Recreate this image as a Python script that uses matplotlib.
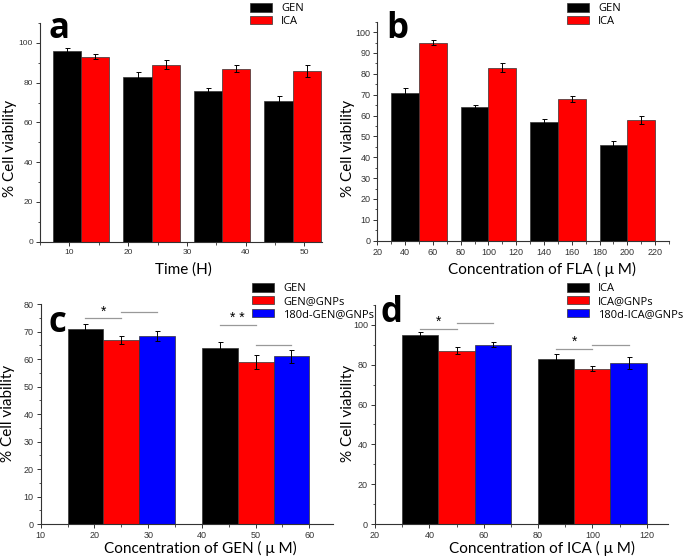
import matplotlib
matplotlib.use('Agg')
import matplotlib.pyplot as plt
from matplotlib.ticker import MultipleLocator

# panel a - time
a_groups = [12, 24, 36, 48]
a_gen = [96, 83, 76, 71]
a_gen_err = [1.2, 2.5, 1.5, 2.5]
a_ica = [93, 89, 87, 86]
a_ica_err = [1.3, 2.3, 1.7, 3.0]

# panel b - FLA concentration
b_groups = [50, 100, 150, 200]
b_gen = [71, 64, 57, 46]
b_gen_err = [2.2, 1.2, 1.5, 2.0]
b_ica = [95, 83, 68, 58]
b_ica_err = [1.3, 2.2, 1.5, 2.0]

# panel c - GEN
c_groups = [25, 50]
c_names = ['GEN', 'GEN@GNPs', '180d-GEN@GNPs']
c_vals = [[71, 64], [67, 59], [68.5, 61]]
c_errs = [[1.7, 2.2], [1.3, 2.7], [1.7, 2.3]]
# (group, bar_i, bar_j, height, star)
c_sig = [(0, 0, 1, 74.9, '*'), (0, 1, 2, 77.3, ''), (1, 0, 1, 72.5, '* *'), (1, 1, 2, 65.2, '')]

# panel d - ICA
d_groups = [50, 100]
d_names = ['ICA', 'ICA@GNPs', '180d-ICA@GNPs']
d_vals = [[95, 83], [87, 78], [90, 81]]
d_errs = [[1.3, 2.3], [1.7, 1.2], [1.3, 3.0]]
d_sig = [(0, 0, 1, 98, '*'), (0, 1, 2, 100.8, ''), (1, 0, 1, 87.8, '*'), (1, 1, 2, 90, '')]

colors = ['black', '#ff0000', '#0000ff']
W, H = 685, 560
LBL = 'Lato'
LET = 'Open Sans'
TCK = 'Liberation Sans'

fig = plt.figure(figsize=(6.85, 5.6), dpi=100)


def make_ax(left, right, top, bottom):
    return fig.add_axes([left / W, 1 - bottom / H, (right - left) / W, (bottom - top) / H])


def style(ax, xlim, ylim, xmaj, ymaj, ymin, fs=6.5):
    ax.set_xlim(*xlim)
    ax.set_ylim(*ylim)
    for s in ['top', 'right']:
        ax.spines[s].set_visible(False)
    for s in ['left', 'bottom']:
        ax.spines[s].set_color('#333333')
        ax.spines[s].set_linewidth(0.8)
    ax.xaxis.set_major_locator(MultipleLocator(xmaj))
    ax.xaxis.set_minor_locator(MultipleLocator(xmaj / 2))
    ax.yaxis.set_major_locator(MultipleLocator(ymaj))
    ax.yaxis.set_minor_locator(MultipleLocator(ymin))
    ax.tick_params(which='major', direction='out', length=3, width=0.7, color='#333333',
                   labelsize=fs, labelcolor='#333333', pad=2)
    ax.tick_params(which='minor', direction='out', length=1.8, width=0.6, color='#333333')
    for lab in ax.get_xticklabels() + ax.get_yticklabels():
        lab.set_fontfamily(TCK)


def legend(names, x, y):
    handles = [plt.Rectangle((0, 0), 1, 1, facecolor=colors[i], edgecolor='#333333', linewidth=0.5)
               for i in range(len(names))]
    fig.legend(handles, names, loc='upper left', bbox_to_anchor=(x / W, 1 - y / H),
               frameon=False, borderpad=0, borderaxespad=0, handlelength=2.0, handleheight=0.8,
               handletextpad=0.8, labelspacing=0.15, prop={'family': LET, 'size': 8})


def labels(letter, lx, ly, xtext, xx, xy, yx, yy):
    fig.text(lx / W, 1 - ly / H, letter, fontsize=25, fontweight='bold', family=LET, va='baseline')
    fig.text(xx / W, 1 - xy / H, xtext, fontsize=11, family=LBL, ha='center', va='center')
    fig.text(yx / W, 1 - yy / H, '% Cell viability', fontsize=11, family=LBL, rotation=90,
             ha='center', va='center')


ekw = dict(ecolor='black', elinewidth=0.7, capsize=1.8, capthick=0.7)
bkw = dict(edgecolor='#333333', linewidth=0.5)

# ---- a
ax = make_ax(40, 322, 23, 241.7)
w = 4.8
ax.bar([g - w / 2 for g in a_groups], a_gen, w, yerr=a_gen_err, color=colors[0], error_kw=ekw, **bkw)
ax.bar([g + w / 2 for g in a_groups], a_ica, w, yerr=a_ica_err, color=colors[1], error_kw=ekw, **bkw)
style(ax, (5, 53), (0, 110), 10, 20, 10, fs=6)
legend(['GEN', 'ICA'], 250, 3)
labels('a', 48, 38, 'Time (H)', 183, 270, 10, 148)

# ---- b
ax = make_ax(377.3, 669, 21.7, 240.7)
w = 20
ax.bar([g - w / 2 for g in b_groups], b_gen, w, yerr=b_gen_err, color=colors[0], error_kw=ekw, **bkw)
ax.bar([g + w / 2 for g in b_groups], b_ica, w, yerr=b_ica_err, color=colors[1], error_kw=ekw, **bkw)
style(ax, (20, 230), (0, 105), 20, 10, 5)
legend(['GEN', 'ICA'], 567, 3)
labels('b', 386, 38, 'Concentration of FLA ( \u03bc M)', 541.7, 269, 348, 148)


def triple(ax, groups, vals, errs, sig, w, star_fs=10):
    for i in range(3):
        xs = [g + (i - 1) * w for g in groups]
        ax.bar(xs, vals[i], w, yerr=errs[i], color=colors[i], error_kw=ekw, **bkw)
    for gi, i, j, h, star in sig:
        x0 = groups[gi] + (i - 1) * w
        x1 = groups[gi] + (j - 1) * w
        ax.plot([x0, x1], [h, h], color='#999999', lw=0.9)
        if star:
            ax.text((x0 + x1) / 2, h, star, ha='center', va='bottom', fontsize=star_fs,
                    family=TCK)


# ---- c
ax = make_ax(40.7, 333, 304.3, 524)
triple(ax, c_groups, c_vals, c_errs, c_sig, 20 / 3)
style(ax, (10, 64.4), (0, 80), 10, 10, 5)
legend(c_names, 252, 283)
labels('c', 48, 332, 'Concentration of GEN ( \u03bc M)', 200.8, 548.5, 8, 413)

# ---- d
ax = make_ax(375, 668.4, 305, 524)
triple(ax, d_groups, d_vals, d_errs, d_sig, 40 / 3)
style(ax, (20, 128), (0, 110), 20, 20, 10)
legend(d_names, 566.7, 283)
labels('d', 381, 322, 'Concentration of ICA ( \u03bc M)', 541.7, 548.5, 348, 413)

fig.savefig('out.png', dpi=100)
